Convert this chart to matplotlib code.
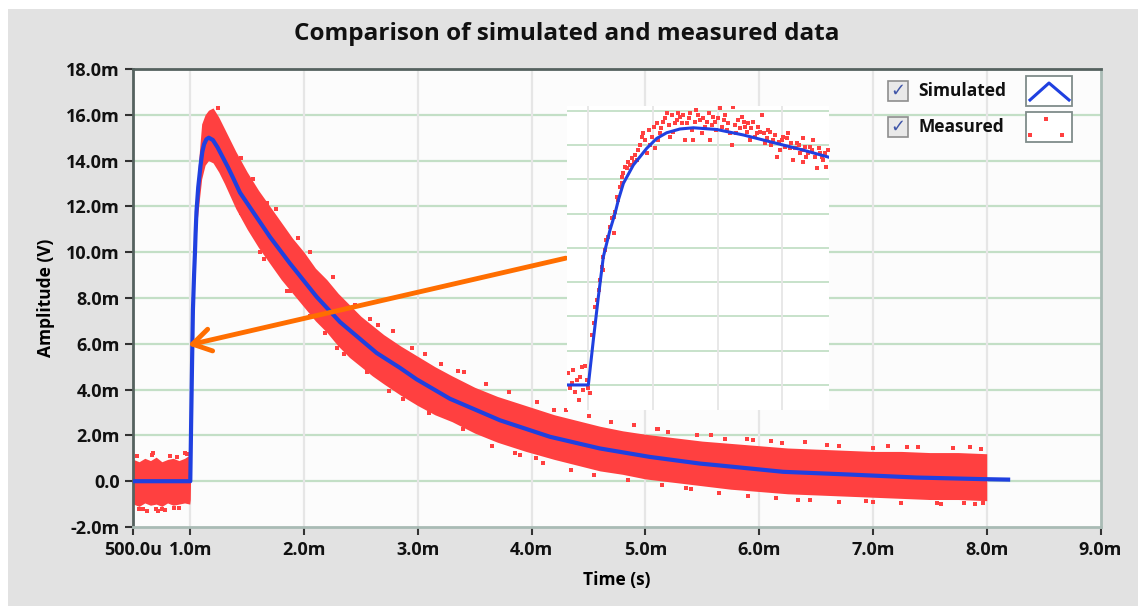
import matplotlib
matplotlib.use('Agg')
import matplotlib.pyplot as plt
from matplotlib.patches import Rectangle
from matplotlib.lines import Line2D

# ---- data (time in ms, amplitude in mV) ----
sim_t = [0.5, 1.0, 1.0077, 1.0155, 1.0232, 1.0335, 1.0413, 1.0464, 1.0542, 1.0696, 1.0799,
         1.0902, 1.1057, 1.1211, 1.1417, 1.1623, 1.1984, 1.2396, 1.291, 1.332, 1.371,
         1.437, 1.70, 1.876, 2.111, 2.316, 2.638, 2.843, 2.989, 3.282, 3.722, 4.161,
         4.6, 5.04, 5.479, 5.626, 6.211, 6.797, 7.383, 7.968, 8.188]
sim_v = [0.0, 0.0, 2.62, 5.15, 7.48, 9.04, 10.01, 10.79, 11.76, 12.83, 13.31,
         13.80, 14.38, 14.71, 14.93, 15.0, 14.9, 14.58, 14.09, 13.7, 13.3,
         12.6, 10.67, 9.51, 8.05, 6.95, 5.6, 4.95, 4.45, 3.6, 2.66, 1.94,
         1.43, 1.06, 0.77, 0.70, 0.41, 0.29, 0.16, 0.09, 0.07]

# measured cloud: envelope
meas_t = [0.50, 0.55, 0.60, 0.65, 0.70, 0.75, 0.80, 0.85, 0.90, 0.95, 0.995,
          1.0, 1.008, 1.016, 1.023, 1.034, 1.046, 1.059, 1.08, 1.10, 1.13,
          1.16, 1.20, 1.25, 1.30, 1.40, 1.50, 1.60, 1.70, 1.80, 1.90,
          2.00, 2.10, 2.20, 2.30, 2.40, 2.50, 2.60, 2.70, 2.85, 3.00,
          3.15, 3.30, 3.50, 3.70, 3.95, 4.20, 4.40, 4.60, 4.80, 5.00,
          5.25, 5.50, 5.75, 6.00, 6.25, 6.50, 6.75, 7.00, 7.25, 7.50,
          7.75, 8.00]
meas_hi = [0.95, 0.85, 1.0, 0.9, 1.05, 0.85, 0.95, 1.0, 0.9, 1.0, 1.15,
           1.2, 3.3, 5.9, 8.2, 9.8, 11.6, 13.0, 14.4, 15.6, 16.0,
           16.2, 16.3, 15.9, 15.4, 14.4, 13.5, 12.7, 12.0, 11.3, 10.6,
           10.0, 9.3, 8.8, 8.2, 7.7, 7.2, 6.8, 6.4, 5.9, 5.45,
           5.0, 4.6, 4.1, 3.7, 3.3, 2.9, 2.65, 2.4, 2.2, 2.05,
           1.9, 1.75, 1.65, 1.55, 1.45, 1.4, 1.35, 1.3, 1.3, 1.25,
           1.25, 1.2]
meas_lo = [-1.0, -1.1, -0.95, -1.05, -1.0, -1.1, -0.95, -1.05, -1.0, -0.95, -1.0,
           -0.8, 2.0, 4.6, 6.9, 8.4, 10.0, 11.3, 12.3, 13.2, 13.8,
           14.0, 13.9, 13.5, 13.0, 11.9, 11.0, 10.2, 9.5, 8.8, 8.2,
           7.6, 7.0, 6.5, 5.9, 5.4, 5.0, 4.6, 4.25, 3.75, 3.3,
           2.9, 2.6, 2.1, 1.7, 1.3, 0.95, 0.7, 0.45, 0.3, 0.1,
           -0.05, -0.2, -0.35, -0.45, -0.55, -0.6, -0.65, -0.7, -0.75, -0.8,
           -0.8, -0.85]

# stray measured points just outside the dense band
stray_t = [0.67, 0.72, 0.62, 0.78, 0.55, 0.95, 0.86, 1.24, 1.67, 1.61, 1.876, 2.18, 2.58,
           2.78, 2.29, 3.06, 2.87, 3.41, 4.20, 4.04, 5.10, 5.36, 5.11, 5.58, 5.89,
           7.13, 7.95, 6.34, 6.94, 7.97, 7.56, 6.60, 7.40, 4.70, 3.90,
           1.45, 1.55, 1.75, 1.95, 2.05, 2.25, 2.45, 2.65, 2.95, 3.20, 3.35, 3.60, 3.80,
           4.05, 4.30, 4.50, 4.90, 5.20, 5.45, 5.70, 6.10, 6.40, 6.70, 7.00, 7.30, 7.70,
           7.85, 6.20, 5.95,
           1.45, 1.65, 1.85, 2.05, 2.35, 2.55, 2.75, 3.10, 3.40, 3.65, 3.85, 4.10, 4.35,
           4.55, 4.85, 5.15, 5.40, 5.65, 5.90, 6.15, 6.45, 6.70, 7.00, 7.25, 7.60, 7.90,
           7.80,
           0.53, 0.58, 0.66, 0.75, 0.82, 0.90, 0.97, 0.88, 0.70]
stray_v = [1.25, -1.3, -1.3, -1.25, -1.2, 1.25, -1.15, 16.3, 12.13, 10.0, 8.3, 6.45, 7.1,
           6.55, 5.8, 5.55, 3.6, 4.75, 3.1, 1.0, 2.3, -0.3, 2.3, 2.0, 1.85,
           1.55, 1.4, -0.8, -0.85, -0.95, -0.95, 1.6, 1.5, 2.6, 1.15,
           14.1, 13.2, 11.9, 10.6, 10.0, 8.9, 7.7, 6.8, 5.8, 5.1, 4.8, 4.25, 3.9,
           3.45, 3.1, 2.85, 2.45, 2.15, 2.0, 1.85, 1.75, 1.7, 1.55, 1.45, 1.5, 1.45,
           1.5, 1.65, 1.8,
           11.7, 9.7, 8.3, 7.2, 5.55, 4.75, 3.95, 3.0, 2.3, 1.55, 1.25, 0.8, 0.5,
           0.25, 0.05, -0.15, -0.35, -0.5, -0.65, -0.75, -0.8, -0.9, -0.9, -0.95, -1.0, -1.0,
           -0.95,
           1.1, -1.2, 1.15, -1.2, 1.1, -1.15, 1.2, 1.05, -1.2]

# zoomed inset
ins_sim_t = [0.967, 1.0, 1.0077, 1.0155, 1.0232, 1.0335, 1.0413, 1.0464, 1.0542, 1.0696,
             1.0799, 1.0902, 1.1057, 1.1211, 1.1417, 1.1623, 1.1984, 1.2396, 1.291, 1.332, 1.372]
ins_sim_v = [0.0, 0.0, 2.62, 5.15, 7.48, 9.04, 10.01, 10.79, 11.76, 12.83,
             13.31, 13.80, 14.38, 14.71, 14.93, 15.0, 14.9, 14.58, 14.09, 13.7, 13.28]
ins_dot_t = [0.969, 0.977, 0.982, 0.990, 0.995, 0.972, 0.979, 0.985, 0.992, 1.000, 1.003,
             0.974, 0.987, 0.998,
             1.005, 1.010, 1.016, 1.018, 1.023, 1.023, 1.028, 1.034, 1.036, 1.039, 1.041,
             1.046, 1.049, 1.052, 1.054, 1.059, 1.065, 1.070, 1.075, 1.077, 1.080, 1.083,
             1.088, 1.090, 1.095, 1.101, 1.103, 1.111, 1.116, 1.121, 1.126, 1.134, 1.142,
             1.150, 1.155, 1.162, 1.167, 1.173, 1.180, 1.188, 1.193, 1.198, 1.204, 1.209,
             1.214, 1.222, 1.224, 1.229, 1.237, 1.242, 1.250, 1.255, 1.260, 1.268, 1.273,
             1.278, 1.286, 1.291, 1.296, 1.301, 1.309, 1.312, 1.317, 1.322, 1.327, 1.332,
             1.337, 1.343, 1.348, 1.353, 1.358, 1.363, 1.368, 1.371, 1.332,
             1.085, 1.093, 1.098, 1.106, 1.108, 1.113, 1.118, 1.124, 1.129, 1.131, 1.137,
             1.139, 1.144, 1.147, 1.152, 1.157, 1.160, 1.165, 1.170, 1.175, 1.178, 1.183,
             1.186, 1.191, 1.196, 1.201, 1.206, 1.211, 1.216, 1.219, 1.227, 1.232, 1.234,
             1.240, 1.245, 1.247, 1.252, 1.258, 1.263, 1.265, 1.271, 1.276, 1.281, 1.283,
             1.289, 1.294, 1.299, 1.304, 1.307, 1.314, 1.319, 1.325, 1.330, 1.335, 1.340,
             1.345, 1.350, 1.356, 1.361, 1.366,
             1.072, 1.067, 1.062, 1.057, 1.052, 1.044, 1.039, 1.031, 1.026, 1.021, 1.013, 1.008]
ins_dot_v = [0.68, 0.87, 0.29, 1.07, 1.11, -0.19, -0.39, -0.87, -0.29, -0.19, -0.49,
             0.10, 0.49, 0.29,
             2.91, 4.57, 5.54, 6.12, 7.48, 6.70, 8.45, 9.23, 9.72, 8.84, 10.11,
             10.79, 11.56, 12.15, 12.34, 12.63, 12.83, 13.02, 13.12, 13.70, 13.99, 14.48,
             14.28, 13.51, 13.99, 15.06, 13.80, 14.67, 15.35, 15.84, 14.48, 15.26, 15.65,
             14.28, 15.55, 14.28, 16.03, 15.45, 15.06, 14.28, 15.65, 14.87, 16.13, 15.45,
             14.87, 13.99, 16.23, 14.67, 15.65, 15.06, 14.28, 15.35, 14.67, 15.74, 14.09,
             14.87, 14.28, 13.31, 13.70, 14.48, 14.67, 13.80, 13.12, 14.09, 13.51, 14.38,
             13.31, 13.90, 14.28, 12.63, 13.51, 13.12, 12.73, 13.70, 13.02,
             14.67, 14.87, 14.48, 15.26, 14.28, 14.96, 15.55, 15.16, 15.74, 14.77, 15.45,
             15.84, 15.26, 15.74, 15.26, 15.84, 14.87, 15.35, 15.74, 14.67, 15.55, 15.35,
             15.84, 15.16, 15.35, 15.55, 15.06, 15.74, 15.26, 14.67, 15.16, 15.45, 14.96,
             15.35, 14.77, 15.26, 14.96, 14.48, 15.06, 14.77, 14.67, 14.38, 14.77, 13.99,
             14.57, 14.19, 14.28, 13.90, 14.38, 14.09, 13.80, 13.99, 13.70, 13.90, 13.51,
             13.70, 13.31, 13.80, 13.31, 13.51,
             13.41, 13.22, 13.02, 12.73, 11.76, 10.98, 9.81, 8.65, 7.87, 6.90, 4.96, 3.59]

x_ticks = [0.5, 1, 2, 3, 4, 5, 6, 7, 8, 9]
x_labels = ['500.0u', '1.0m', '2.0m', '3.0m', '4.0m', '5.0m', '6.0m', '7.0m', '8.0m', '9.0m']
y_ticks = [-2, 0, 2, 4, 6, 8, 10, 12, 14, 16, 18]
y_labels = ['-2.0m', '0.0', '2.0m', '4.0m', '6.0m', '8.0m', '10.0m', '12.0m', '14.0m', '16.0m', '18.0m']

RED = '#ff4040'
BLUE = '#1f40e0'
HGRID = '#c3dfc6'
VGRID = '#e6e6e6'
plt.rcParams['font.family'] = ['Open Sans', 'DejaVu Sans']

W, H = 1138, 606
fig = plt.figure(figsize=(W / 100, H / 100), dpi=100)
fig.patch.set_facecolor('white')

def fx(x):
  return x / W

def fy(y):
  return 1 - y / H

# grey panel behind everything
fig.patches.append(Rectangle((fx(8), 0), 1 - fx(8), fy(9), transform=fig.transFigure,
                             facecolor='#e2e2e2', edgecolor='none', zorder=-10))

ax = fig.add_axes([fx(133.4), fy(527), fx(1100.5) - fx(133.4), fy(69) - fy(527)])
ax.set_facecolor('#fcfcfc')
ax.set_xlim(0.5, 9.0)
ax.set_ylim(-2, 18)
for yy in y_ticks[1:-1]:
  ax.axhline(yy, color=HGRID, lw=1.6, zorder=0)
for xx in x_ticks[1:-1]:
  ax.axvline(xx, color=VGRID, lw=1.6, zorder=0)

ax.fill_between(meas_t, meas_lo, meas_hi, color=RED, lw=0, zorder=2)
ax.plot(stray_t, stray_v, 's', color=RED, ms=3, mew=0, zorder=2)
ax.plot(sim_t, sim_v, color=BLUE, lw=3, zorder=3, solid_joinstyle='round')

ax.set_xticks(x_ticks)
ax.set_xticklabels(x_labels)
ax.set_yticks(y_ticks)
ax.set_yticklabels(y_labels)
ax.tick_params(direction='out', length=6, width=1.5, color='#333333', labelsize=13, pad=4)
for lab in ax.get_xticklabels() + ax.get_yticklabels():
  lab.set_fontweight('bold')
  lab.set_color('#111111')
ax.spines['left'].set_color('#55625f')
ax.spines['top'].set_color('#55625f')
ax.spines['right'].set_color('#a9bbb5')
ax.spines['bottom'].set_color('#a9bbb5')
for s in ax.spines.values():
  s.set_linewidth(2)

ax.set_xlabel('Time (s)', fontsize=12.5, fontweight='bold', labelpad=9)
ax.set_ylabel('Amplitude (V)', fontsize=12.5, fontweight='bold', labelpad=8)
fig.text(fx(567), fy(34), 'Comparison of simulated and measured data', ha='center', va='center',
         fontsize=17.5, fontweight='bold', color='#111111')

# arrow pointing from the inset to the rising edge
ax.annotate('', xy=(0.98, 5.94), xytext=(4.30, 9.74),
            arrowprops=dict(arrowstyle='->,head_length=0.65,head_width=0.4', color='#ff6e00',
                            lw=3.5, mutation_scale=20, shrinkA=0, shrinkB=0), zorder=5)

# legend
for row_y, name in [(91, 'Simulated'), (127, 'Measured')]:
  fig.patches.append(Rectangle((fx(888), fy(row_y + 10)), fx(20), 20 / H, transform=fig.transFigure,
                               facecolor='#e9e9e9', edgecolor='#8e8e8e', lw=1.2, zorder=6))
  fig.text(fx(898), fy(row_y), '\u2713', ha='center', va='center', fontsize=13,
           color='#3f55a8', family='DejaVu Sans', fontweight='bold', zorder=7)
  fig.text(fx(918), fy(row_y), name, ha='left', va='center', fontsize=12.5,
           fontweight='bold', color='#111111', zorder=7)
  fig.patches.append(Rectangle((fx(1026), fy(row_y + 15)), fx(46), 30 / H, transform=fig.transFigure,
                               facecolor='white', edgecolor='#7f8c8a', lw=1.3, zorder=6))
fig.lines.append(Line2D([fx(1030), fx(1049), fx(1069)], [fy(100), fy(83), fy(100)],
                        transform=fig.transFigure, color=BLUE, lw=2.2, zorder=7))
fig.lines.append(Line2D([fx(1046), fx(1030), fx(1062)], [fy(119), fy(135), fy(135)],
                        transform=fig.transFigure, ls='none', marker='s', ms=3, mew=0,
                        color=RED, zorder=7))

# zoomed inset
axi = fig.add_axes([fx(567), fy(410), fx(829) - fx(567), fy(106) - fy(410)], zorder=4)
axi.set_facecolor('white')
axi.set_xlim(0.967, 1.372)
axi.set_ylim(-1.46, 16.27)
for yy in range(0, 17, 2):
  axi.axhline(yy, color=HGRID, lw=1.3, zorder=0)
for xx in [1.0, 1.1, 1.2, 1.3]:
  axi.axvline(xx, color=VGRID, lw=1.3, zorder=0)
axi.plot(ins_dot_t, ins_dot_v, 's', color=RED, ms=3, mew=0, zorder=2)
axi.plot(ins_sim_t, ins_sim_v, color=BLUE, lw=2.2, zorder=3, solid_joinstyle='round')
axi.set_xticks([])
axi.set_yticks([])
for s in axi.spines.values():
  s.set_visible(False)

fig.savefig('out.png', dpi=100)
